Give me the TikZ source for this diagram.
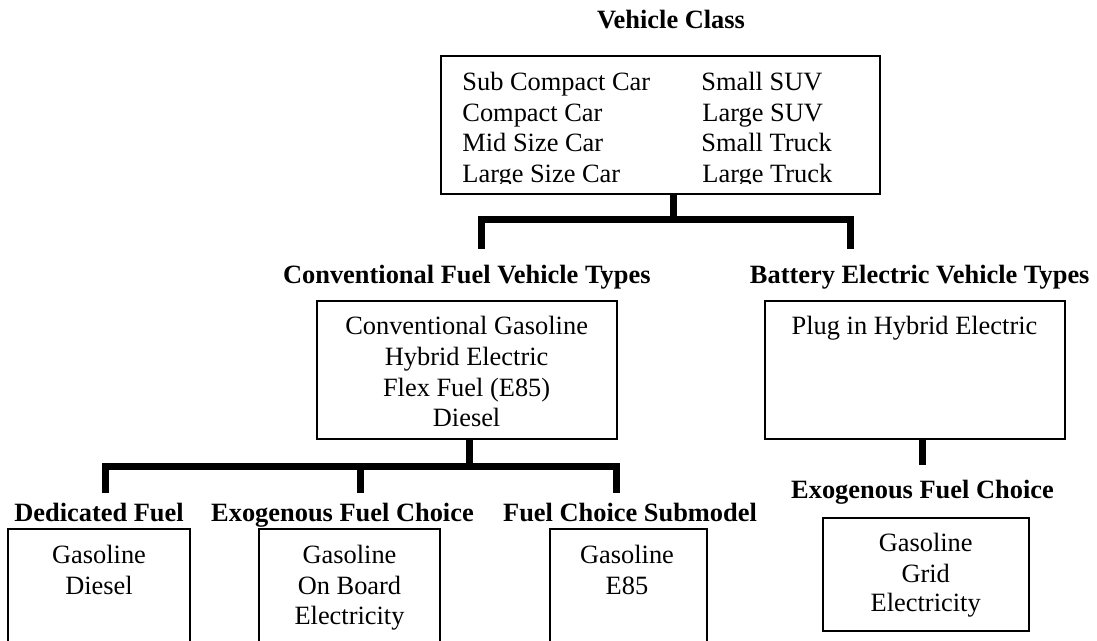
\documentclass[tikz,border=0pt]{standalone}
\usepackage{fontspec}
\setmainfont{Liberation Serif}
\begin{document}
\begin{tikzpicture}[x=0.5pt,y=-0.5pt,
  txt/.style={inner sep=0pt, anchor=base, font=\fontsize{13.2}{15}\selectfont},
  ttl/.style={inner sep=0pt, anchor=base, font=\fontsize{13.2}{15}\selectfont\bfseries},
  box/.style={draw, line width=1pt, inner sep=0pt},
  conn/.style={line width=3.5pt, line join=miter}]
\useasboundingbox (0,0) rectangle (1097,641);
\clip (0,0) rectangle (1097,641);

% Top level
\node[ttl] (tvc) at (671,28.3) {Vehicle Class};
\node[box, minimum width=219.65pt, minimum height=69pt] (vc) at (660.35,125) {};
\begin{scope}
\clip (440,56) rectangle (881,184);
\node[txt, anchor=base west] (l1) at (462,90.7) {Sub Compact Car};
\node[txt, anchor=base west] (l2) at (462,121.2) {Compact Car};
\node[txt, anchor=base west] (l3) at (462,151.7) {Mid Size Car};
\node[txt, anchor=base west] (l4) at (462,182.2) {Large Size Car};
\node[txt, anchor=base west] (r1) at (701,90.7) {Small SUV};
\node[txt, anchor=base west] (r2) at (702,121.2) {Large SUV};
\node[txt, anchor=base west] (r3) at (701,151.7) {Small Truck};
\node[txt, anchor=base west] (r4) at (702,182.2) {Large Truck};
\end{scope}

\coordinate (j1) at (673,220);
\coordinate (d1a) at (481.5,249);
\coordinate (d1b) at (850.5,249);
\draw[conn] (vc.south -| j1) -- (j1);
\draw[conn] (d1a) |- (j1) -| (d1b);

% Second level
\node[ttl] (tcv) at (466.8,283.3) {Conventional Fuel Vehicle Types};
\node[ttl] (tbev) at (919.7,283.3) {Battery Electric Vehicle Types};
\node[box, minimum width=149.85pt, minimum height=68.75pt] (cv) at (466.65,369.75) {};
\node[txt] (cv1) at (466.6,335) {Conventional Gasoline};
\node[txt] (cv2) at (466.6,365.5) {Hybrid Electric};
\node[txt] (cv3) at (466.6,396) {Flex Fuel (E85)};
\node[txt] (cv4) at (466.6,426.5) {Diesel};
\node[box, minimum width=150.25pt, minimum height=68.75pt] (bev) at (914.75,369.75) {};
\node[txt] (bev1) at (914.5,335) {Plug in Hybrid Electric};

\coordinate (j2) at (469,466.5);
\coordinate (d2a) at (105,493);
\coordinate (d2b) at (360,493);
\coordinate (d2c) at (616.7,493);
\draw[conn] (cv.south -| j2) -- (j2);
\draw[conn] (d2a) |- (j2) -| (d2c);
\draw[conn] (d2b) -- (d2b |- j2);

\coordinate (d3) at (922.7,465);
\draw[conn] (bev.south -| d3) -- (d3);

% Third level
\node[ttl] (tdf) at (99,521.7) {Dedicated Fuel};
\node[ttl] (tefc) at (342.5,521.7) {Exogenous Fuel Choice};
\node[ttl] (tfcs) at (630,521.7) {Fuel Choice Submodel};
\node[ttl] (tbefc) at (922.5,498) {Exogenous Fuel Choice};

\node[box, minimum width=90.85pt, minimum height=65.5pt] (df) at (99.15,594.5) {};
\node[txt] (df1) at (99,563.3) {Gasoline};
\node[txt] (df2) at (99,594) {Diesel};

\node[box, minimum width=90.5pt, minimum height=65.5pt] (efc) at (349.5,594.5) {};
\node[txt] (efc1) at (349.5,563.3) {Gasoline};
\node[txt] (efc2) at (349.5,594) {On Board};
\node[txt] (efc3) at (349.5,624.5) {Electricity};

\node[box, minimum width=78.35pt, minimum height=65.5pt] (fcs) at (628.35,594.5) {};
\node[txt] (fcs1) at (627,563.3) {Gasoline};
\node[txt] (fcs2) at (627,594) {E85};

\node[box, minimum width=103.15pt, minimum height=56.2pt] (befc) at (925.85,574.5) {};
\node[txt] (befc1) at (925.7,551.7) {Gasoline};
\node[txt] (befc2) at (925.7,582.3) {Grid};
\node[txt] (befc3) at (925.7,611.7) {Electricity};
\end{tikzpicture}
\end{document}
